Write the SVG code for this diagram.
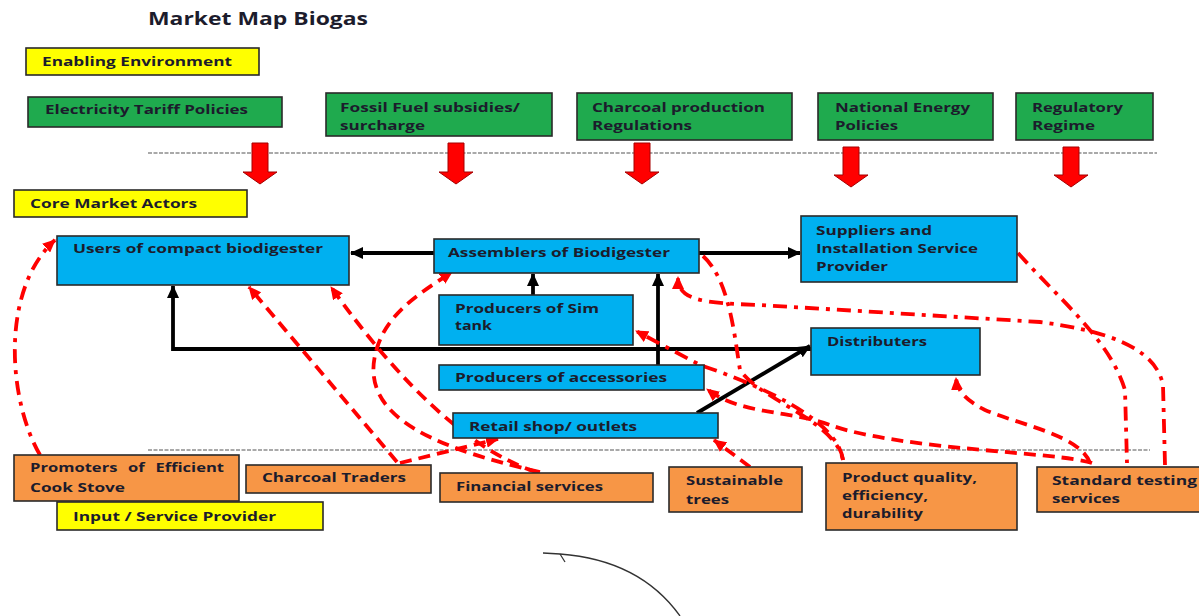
<svg xmlns="http://www.w3.org/2000/svg" width="1199" height="616" viewBox="0 0 1199 616">
  <style>
    .lbl { font-family: "Open Sans", "Liberation Sans", sans-serif; font-weight: bold; font-size: 13px; fill: #1c1c2c; }
    .title { font-family: "Open Sans", "Liberation Sans", sans-serif; font-weight: bold; font-size: 17px; fill: #1c1c2c; }
    .box { stroke: #2a2a2a; stroke-width: 1.6; }
    .yellow { fill: #ffff00; }
    .green { fill: #1faa4e; }
    .blue { fill: #00b0f0; }
    .orange { fill: #f79646; }
    .sep { stroke: #555; stroke-width: 1.2; stroke-dasharray: 4 1.5; fill: none; }
    .policy { fill: #ff0000; stroke: #a50000; stroke-width: 1; }
    .flow { stroke: #000; stroke-width: 3.8; fill: none; }
    .link { stroke: #ff0000; stroke-width: 3.8; fill: none; }
    .dash { stroke-dasharray: 12 7; }
    .dashdot { stroke-dasharray: 14 7 4 7; }
  </style>
  <defs>
    <marker id="blackHead" markerUnits="userSpaceOnUse" markerWidth="13" markerHeight="12" refX="12" refY="6" orient="auto">
      <path d="M0,0 L13,6 L0,12 z" fill="#000"/>
    </marker>
    <marker id="redHead" markerUnits="userSpaceOnUse" markerWidth="13" markerHeight="12" refX="12" refY="6" orient="auto">
      <path d="M0,0 L13,6 L0,12 z" fill="#ff0000"/>
    </marker>
  </defs>

  <rect width="1199" height="616" fill="#ffffff"/>

  <text class="title" x="148" y="25" textLength="220" lengthAdjust="spacingAndGlyphs">Market Map Biogas</text>

  <!-- section separators -->
  <line class="sep" x1="148" y1="153" x2="1157" y2="153"/>
  <line class="sep" x1="148" y1="450" x2="1150" y2="450"/>

  <!-- section labels -->
  <g id="enabling-environment">
    <rect class="box yellow" x="26" y="48" width="233" height="27"/>
    <text class="lbl" x="42" y="66" textLength="190" lengthAdjust="spacingAndGlyphs">Enabling Environment</text>
  </g>
  <g id="core-market-actors">
    <rect class="box yellow" x="14" y="190" width="233" height="27"/>
    <text class="lbl" x="30" y="208" textLength="167" lengthAdjust="spacingAndGlyphs">Core Market Actors</text>
  </g>
  <g id="input-service-provider">
    <rect class="box yellow" x="57" y="502" width="266" height="28"/>
    <text class="lbl" x="73" y="521" textLength="203" lengthAdjust="spacingAndGlyphs">Input / Service Provider</text>
  </g>

  <!-- enabling environment factors -->
  <g id="electricity-tariff">
    <rect class="box green" x="28" y="97" width="254" height="30"/>
    <text class="lbl" x="45" y="114" textLength="203" lengthAdjust="spacingAndGlyphs">Electricity Tariff Policies</text>
  </g>
  <g id="fossil-fuel">
    <rect class="box green" x="326" y="93" width="226" height="43"/>
    <text class="lbl" x="340" y="112" textLength="180" lengthAdjust="spacingAndGlyphs">Fossil Fuel subsidies/</text>
    <text class="lbl" x="340" y="130" textLength="85" lengthAdjust="spacingAndGlyphs">surcharge</text>
  </g>
  <g id="charcoal-regulations">
    <rect class="box green" x="577" y="93" width="215" height="47"/>
    <text class="lbl" x="592" y="112" textLength="173" lengthAdjust="spacingAndGlyphs">Charcoal production</text>
    <text class="lbl" x="592" y="130" textLength="100" lengthAdjust="spacingAndGlyphs">Regulations</text>
  </g>
  <g id="national-energy">
    <rect class="box green" x="818" y="93" width="175" height="47"/>
    <text class="lbl" x="835" y="112" textLength="135" lengthAdjust="spacingAndGlyphs">National Energy</text>
    <text class="lbl" x="835" y="130" textLength="63" lengthAdjust="spacingAndGlyphs">Policies</text>
  </g>
  <g id="regulatory-regime">
    <rect class="box green" x="1016" y="93" width="137" height="47"/>
    <text class="lbl" x="1032" y="112" textLength="91" lengthAdjust="spacingAndGlyphs">Regulatory</text>
    <text class="lbl" x="1032" y="130" textLength="63" lengthAdjust="spacingAndGlyphs">Regime</text>
  </g>

  <!-- policy influence arrows -->
  <g id="policy-arrows">
    <polygon class="policy" points="252,143 268,143 268,172 277,172 260,184 243,172 252,172"/>
    <polygon class="policy" points="448,143 464,143 464,172 473,172 456,184 439,172 448,172"/>
    <polygon class="policy" points="634,143 650,143 650,172 659,172 642,184 625,172 634,172"/>
    <polygon class="policy" points="843,147 859,147 859,175 868,175 851,187 834,175 843,175"/>
    <polygon class="policy" points="1063,147 1079,147 1079,175 1088,175 1071,187 1054,175 1063,175"/>
  </g>

  <!-- connectors -->
  <g id="connectors">
    <!-- market chain -->
    <line class="flow" x1="434" y1="253" x2="351" y2="253" marker-end="url(#blackHead)"/>
    <line class="flow" x1="699" y1="253" x2="800" y2="253" marker-end="url(#blackHead)"/>
    <line class="flow" x1="533" y1="295" x2="533" y2="274" marker-end="url(#blackHead)"/>
    <line class="flow" x1="658" y1="365" x2="658" y2="274" marker-end="url(#blackHead)"/>
    <polyline class="flow" points="811,349 173,349 173,286" marker-end="url(#blackHead)"/>
    <line class="flow" x1="697" y1="413" x2="810" y2="346" marker-end="url(#blackHead)"/>

    <!-- service and support links -->
    <path class="link dashdot" d="M 40 455 C 8 400, 0 290, 55 240" marker-end="url(#redHead)"/>
    <path class="link dash" d="M 397 462 L 249 287" marker-end="url(#redHead)"/>
    <path class="link dash" d="M 400 463 L 498 439" marker-end="url(#redHead)"/>
    <path class="link dash" d="M 536 472 Q 440 440 331 287" marker-end="url(#redHead)"/>
    <path class="link dash" d="M 540 472 C 420 445, 355 410, 378 345 C 390 310, 425 290, 452 272" marker-end="url(#redHead)"/>
    <path class="link dash" d="M 750 467 L 714 440" marker-end="url(#redHead)"/>
    <path class="link dashdot" d="M 843 460 C 838 420, 760 385, 700 365 L 636 331" marker-end="url(#redHead)"/>
    <path class="link dash" d="M 1092 463 C 1060 452, 900 450, 830 425 C 790 410, 740 415, 707 389" marker-end="url(#redHead)"/>
    <path class="link dashdot" d="M 703 256 C 730 280, 735 340, 740 370 C 760 400, 835 420, 843 460"/>
    <path class="link dashdot" d="M 1165 465 L 1163 385 C 1155 345, 1100 330, 1040 322 L 760 305 C 700 303, 678 300, 678 277" marker-end="url(#redHead)"/>
    <path class="link dashdot" d="M 1018 253 C 1060 300, 1110 340, 1125 390 L 1127 463"/>
    <path class="link dash" d="M 1090 463 C 1080 435, 1020 425, 985 410 C 965 400, 957 390, 956 378" marker-end="url(#redHead)"/>
  </g>

  <!-- core market actors -->
  <g id="users">
    <rect class="box blue" x="57" y="236" width="292" height="49"/>
    <text class="lbl" x="73" y="253" textLength="250" lengthAdjust="spacingAndGlyphs">Users of compact biodigester</text>
  </g>
  <g id="assemblers">
    <rect class="box blue" x="434" y="239" width="265" height="34"/>
    <text class="lbl" x="448" y="257" textLength="222" lengthAdjust="spacingAndGlyphs">Assemblers of Biodigester</text>
  </g>
  <g id="suppliers">
    <rect class="box blue" x="801" y="216" width="216" height="66"/>
    <text class="lbl" x="816" y="235" textLength="116" lengthAdjust="spacingAndGlyphs">Suppliers and</text>
    <text class="lbl" x="816" y="253" textLength="162" lengthAdjust="spacingAndGlyphs">Installation Service</text>
    <text class="lbl" x="816" y="271" textLength="72" lengthAdjust="spacingAndGlyphs">Provider</text>
  </g>
  <g id="sim-tank">
    <rect class="box blue" x="439" y="295" width="194" height="50"/>
    <text class="lbl" x="455" y="313" textLength="144" lengthAdjust="spacingAndGlyphs">Producers of Sim</text>
    <text class="lbl" x="455" y="330" textLength="37" lengthAdjust="spacingAndGlyphs">tank</text>
  </g>
  <g id="accessories">
    <rect class="box blue" x="439" y="365" width="265" height="25"/>
    <text class="lbl" x="455" y="382" textLength="212" lengthAdjust="spacingAndGlyphs">Producers of accessories</text>
  </g>
  <g id="distributers">
    <rect class="box blue" x="811" y="328" width="169" height="47"/>
    <text class="lbl" x="827" y="346" textLength="100" lengthAdjust="spacingAndGlyphs">Distributers</text>
  </g>
  <g id="retail">
    <rect class="box blue" x="453" y="413" width="265" height="25"/>
    <text class="lbl" x="469" y="431" textLength="168" lengthAdjust="spacingAndGlyphs">Retail shop/ outlets</text>
  </g>

  <!-- input and service providers -->
  <g id="promoters">
    <rect class="box orange" x="14" y="455" width="225" height="46"/>
    <text class="lbl" x="30" y="472" textLength="194" lengthAdjust="spacingAndGlyphs" word-spacing="5">Promoters of Efficient</text>
    <text class="lbl" x="30" y="492" textLength="95" lengthAdjust="spacingAndGlyphs">Cook Stove</text>
  </g>
  <g id="charcoal-traders">
    <rect class="box orange" x="246" y="465" width="185" height="28"/>
    <text class="lbl" x="262" y="482" textLength="144" lengthAdjust="spacingAndGlyphs">Charcoal Traders</text>
  </g>
  <g id="financial-services">
    <rect class="box orange" x="440" y="473" width="213" height="29"/>
    <text class="lbl" x="456" y="491" textLength="147" lengthAdjust="spacingAndGlyphs">Financial services</text>
  </g>
  <g id="sustainable-trees">
    <rect class="box orange" x="669" y="467" width="133" height="45"/>
    <text class="lbl" x="686" y="485" textLength="97" lengthAdjust="spacingAndGlyphs">Sustainable</text>
    <text class="lbl" x="686" y="504" textLength="43" lengthAdjust="spacingAndGlyphs">trees</text>
  </g>
  <g id="product-quality">
    <rect class="box orange" x="826" y="463" width="191" height="67"/>
    <text class="lbl" x="842" y="482" textLength="135" lengthAdjust="spacingAndGlyphs">Product quality,</text>
    <text class="lbl" x="842" y="500" textLength="86" lengthAdjust="spacingAndGlyphs">efficiency,</text>
    <text class="lbl" x="842" y="518" textLength="81" lengthAdjust="spacingAndGlyphs">durability</text>
  </g>
  <g id="standard-testing">
    <rect class="box orange" x="1037" y="467" width="175" height="45"/>
    <text class="lbl" x="1052" y="485" textLength="145" lengthAdjust="spacingAndGlyphs">Standard testing</text>
    <text class="lbl" x="1052" y="503" textLength="68" lengthAdjust="spacingAndGlyphs">services</text>
  </g>

  <!-- stray arc near the bottom -->
  <g id="arc" fill="none" stroke="#333" stroke-width="1.3">
    <path d="M 543 553 L 560 554 Q 640 560 680 616"/>
    <path d="M 560 554 L 565 562"/>
  </g>
</svg>
